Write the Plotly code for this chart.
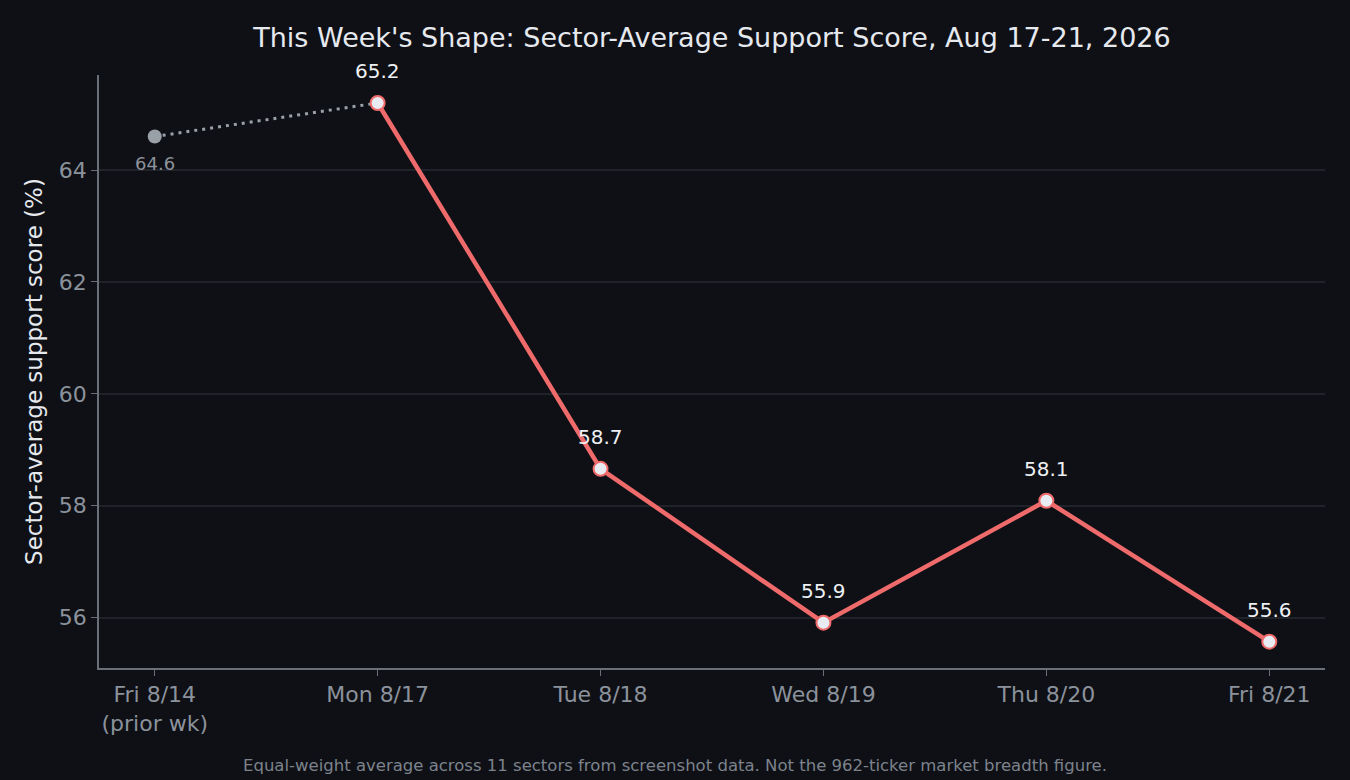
import plotly.graph_objects as go

days = ["Fri 8/14<br>(prior wk)", "Mon 8/17", "Tue 8/18", "Wed 8/19", "Thu 8/20", "Fri 8/21"]
prior_score = [64.6, 65.2]
week_score = [65.2, 58.66, 55.91, 58.09, 55.57]
y_ticks = [56, 58, 60, 62, 64]

BG = "#0e1016"
RED = "#ef6b6b"
GRAY = "#8c929b"
FONT = "DejaVu Sans"

fig = go.Figure()

# prior-week bridge (dotted)
fig.add_trace(go.Scatter(
    x=[0, 1], y=prior_score, mode="lines",
    line=dict(color="#9aa0a8", width=3, dash="3px,5px"),
    hoverinfo="skip", showlegend=False))
fig.add_trace(go.Scatter(
    x=[0], y=prior_score[:1], mode="markers",
    marker=dict(color="#9aa0a8", size=14),
    showlegend=False))

# this week
week_x = list(range(1, len(days)))
fig.add_trace(go.Scatter(
    x=week_x, y=week_score, mode="lines+markers",
    line=dict(color=RED, width=4.5),
    marker=dict(color="#e8ecf2", size=14, line=dict(color=RED, width=2)),
    showlegend=False))

# value labels
fig.add_annotation(x=0, y=prior_score[0], text=f"{prior_score[0]:.1f}",
                   showarrow=False, yshift=-27,
                   font=dict(color=GRAY, size=18, family=FONT))
for xi, v in zip(week_x, week_score):
    fig.add_annotation(x=xi, y=v, text=f"{v:.1f}", showarrow=False, yshift=32,
                       font=dict(color="#eef0f3", size=20, family=FONT))

fig.update_layout(
    width=1350, height=780,
    paper_bgcolor=BG, plot_bgcolor=BG,
    margin=dict(l=99, r=25, t=75, b=112),
    font=dict(family=FONT, color=GRAY),
    title=dict(text="This Week's Shape: Sector-Average Support Score, Aug 17-21, 2026",
               xref="paper", x=0.5, xanchor="center", y=0.952, yanchor="middle",
               font=dict(size=27, color="#e6e9ee", family=FONT)),
    xaxis=dict(
        range=[-0.25, 5.25], tickmode="array",
        tickvals=list(range(len(days))), ticktext=days,
        showgrid=False, zeroline=False,
        showline=True, linecolor="#6b7078", linewidth=1.5,
        ticks="outside", ticklen=6, tickcolor="#6b7078",
        tickfont=dict(size=22, color=GRAY)),
    yaxis=dict(
        range=[55.1, 65.7], tickvals=y_ticks,
        showgrid=True, gridcolor="#20232a", gridwidth=1.5, zeroline=False,
        showline=True, linecolor="#6b7078", linewidth=1.5,
        ticks="outside", ticklen=6, tickcolor="#6b7078",
        tickfont=dict(size=22, color=GRAY),
        title=dict(text="Sector-average support score (%)",
                   font=dict(size=23, color="#e6e9ee"), standoff=10)),
)

fig.add_annotation(
    text="Equal-weight average across 11 sectors from screenshot data. Not the 962-ticker market breadth figure.",
    xref="paper", yref="paper", x=0.4698, y=-0.165, xanchor="center", yanchor="middle",
    showarrow=False, font=dict(size=16.5, color="#7d838c", family=FONT))

fig.write_html("out.html", config={"displayModeBar": False},
               post_script="document.body.style.margin='0';document.body.style.background='#0e1016';")
